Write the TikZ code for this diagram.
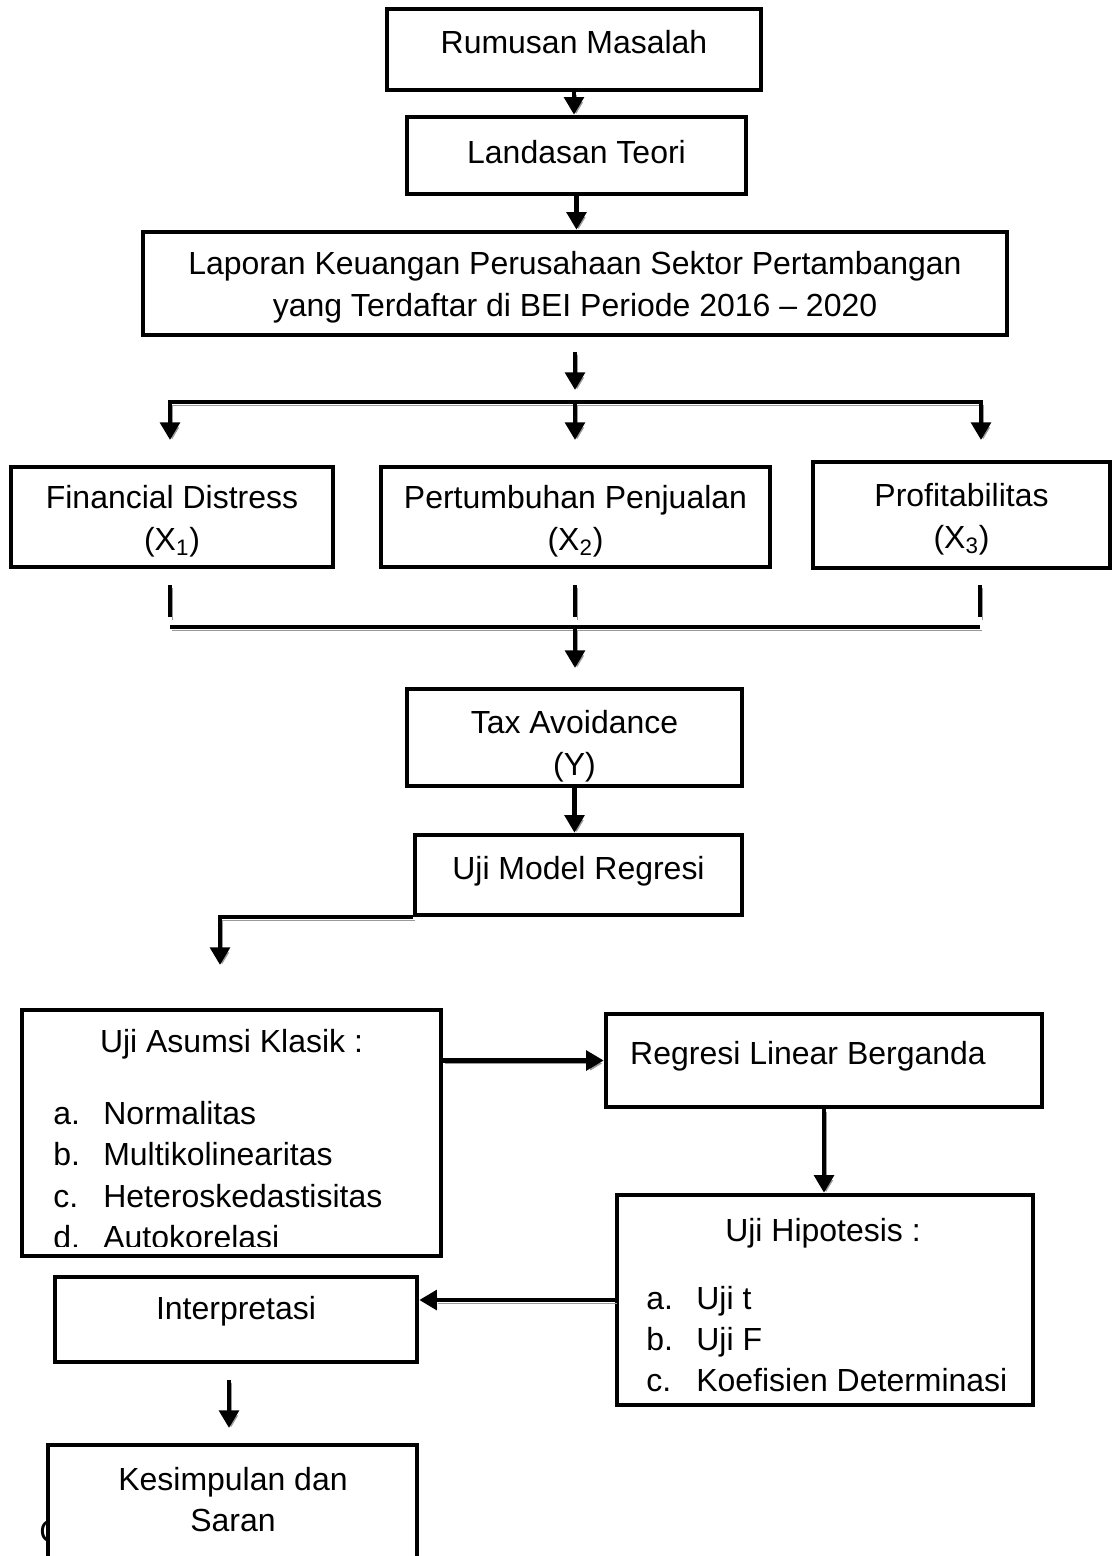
\documentclass[tikz,border=0pt]{standalone}
\usepackage{fontspec}
\setmainfont{Liberation Sans}
\usetikzlibrary{arrows.meta}
\newcommand{\butir}[1]{\makebox[1cm][l]{#1}}
\newcommand{\tinggi}[1]{\rule{0pt}{#1}}

\begin{document}
\begin{tikzpicture}[x=0.02cm,y=-0.02cm,
	box/.style={draw,line width=2.6pt,fill=white,inner sep=0pt,align=center,font=\fontsize{18.2}{23.6}\selectfont},
	txt/.style={inner sep=0pt,font=\fontsize{18.2}{23.5}\selectfont},
	head/.style={txt,text height=13pt,text depth=0pt},
	ln/.style={line width=2.5pt,preaction={draw=black!40,transform canvas={shift={(1.2pt,-1.7pt)}}}},
	arr/.style={ln,-{Triangle[width=11pt,length=10pt]}}]
	\clip (0,0) rectangle (1112,1556);

	% kotak utama
	\node[box,minimum width=7.48cm,minimum height=1.62cm,text height=13pt,text depth=8pt] (RM) at (574,49.5) {Rumusan Masalah};
	\node[box,minimum width=6.78cm,minimum height=1.54cm,text height=13pt,text depth=3.4pt] (LT) at (576.5,155.5) {Landasan Teori};
	\node[box,minimum width=17.28cm,minimum height=2.06cm] (LK) at (575,283.5) {\tinggi{17.5pt}Laporan Keuangan Perusahaan Sektor Pertambangan\\yang Terdaftar di BEI Periode 2016 – 2020};

	\node[box,minimum width=6.44cm,minimum height=2cm] (FD) at (172,517) {\tinggi{18pt}Financial Distress\\(X\textsubscript{1})};
	\node[box,minimum width=7.78cm,minimum height=2cm] (PP) at (575.5,517) {\tinggi{18pt}Pertumbuhan Penjualan\\(X\textsubscript{2})};
	\node[box,minimum width=5.94cm,minimum height=2.12cm] (PR) at (961.5,515) {\tinggi{18pt}Profitabilitas\\(X\textsubscript{3})};

	\node[box,minimum width=6.7cm,minimum height=1.94cm] (TA) at (574.5,737.5) {\tinggi{23pt}Tax Avoidance\\(Y)};
	\node[box,minimum width=6.54cm,minimum height=1.6cm,text height=13pt,text depth=8pt] (UM) at (578.5,875) {Uji Model Regresi};

	% uji asumsi klasik
	\node[box,minimum width=8.38cm,minimum height=4.92cm] (UA) at (231.5,1133) {};
	\node[head] (UAh) at (231.5,1041) {Uji Asumsi Klasik :};
	\begin{scope}
		\clip (24,1012) rectangle (439,1246);
		\node[txt,anchor=north west,align=left] (UAl) at (53,1101) {\butir{a.}Normalitas\\\butir{b.}Multikolinearitas\\\butir{c.}Heteroskedastisitas\\\butir{d.}Autokorelasi};
	\end{scope}

	\node[box,minimum width=8.72cm,minimum height=1.86cm,text height=13pt,text depth=8.5pt] (RL) at (824,1060.5) {Regresi Linear Berganda\hspace*{0.64cm}};

	% uji hipotesis
	\node[box,minimum width=8.32cm,minimum height=4.2cm] (UH) at (825,1300) {};
	\node[head] (UHh) at (823,1230) {Uji Hipotesis :};
	\node[txt,anchor=north west,align=left] (UHl) at (646,1285.5) {\butir{a.}Uji t\\\butir{b.}Uji F\\\butir{c.}Koefisien Determinasi};

	\node[box,minimum width=7.24cm,minimum height=1.7cm,text height=13pt,text depth=13pt] (IP) at (236,1319.5) {Interpretasi};

	\node[head] (CC) at (51,1531) {C};
	\node[box,minimum width=7.38cm,minimum height=3.1cm] (KS) at (232.5,1522.5) {};
	\node[txt,align=center] (KSt) at (233,1499.5) {Kesimpulan dan\\Saran};

	% titik bantu
	\coordinate (s1) at (575,352);
	\coordinate (s2) at (575,390);
	\coordinate (bb) at (575,402);
	\coordinate (ta) at (170,440);
	\coordinate (tb) at (575,440);
	\coordinate (tc) at (981,440);
	\coordinate (g1) at (170,585);
	\coordinate (g1e) at (170,617);
	\coordinate (g2) at (575,585);
	\coordinate (g2e) at (575,617);
	\coordinate (g3) at (980,585);
	\coordinate (g3e) at (980,617);
	\coordinate (h1) at (170,627);
	\coordinate (h2) at (575,627);
	\coordinate (h2e) at (575,668);
	\coordinate (h3) at (980,627);
	\coordinate (ua) at (220,965);
	\coordinate (ia) at (229,1380);
	\coordinate (ib) at (229,1428);

	\draw[arr] (RM.south) -- (RM.south |- LT.north);
	\draw[arr] (LT.south) -- (LT.south |- LK.north);
	\draw[arr] (s1) -- (s2);
	\draw[arr] (bb) -| (ta);
	\draw[arr] (bb) -| (tc);
	\draw[arr] (bb) -- (tb);
	\draw[ln] (g1) -- (g1e);
	\draw[ln] (g2) -- (g2e);
	\draw[ln] (g3) -- (g3e);
	\draw[ln] (h1) -- (h3);
	\draw[arr] (h2) -- (h2e);
	\draw[arr] (TA.south) -- (TA.south |- UM.north);
	\draw[arr] (UM.south west) -| (ua);
	\draw[arr] (UA.east |- RL.west) -- (RL.west);
	\draw[arr] (RL.south) -- (RL.south |- UH.north);
	\draw[arr] (UH.west) -- (UH.west -| IP.east);
	\draw[arr] (ia) -- (ib);
\end{tikzpicture}
\end{document}
